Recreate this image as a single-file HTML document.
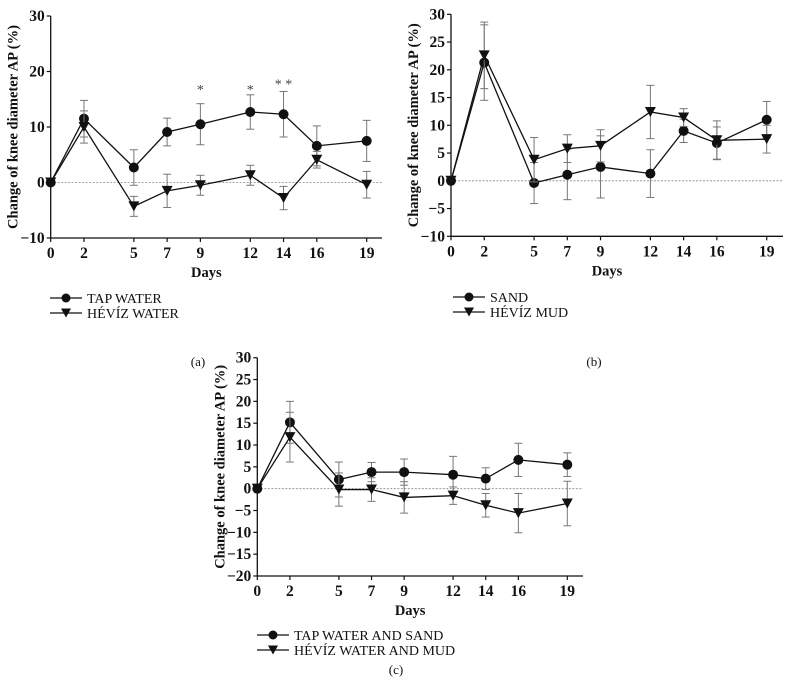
<!DOCTYPE html>
<html><head><meta charset="utf-8"><style>
body{margin:0;background:#fff;width:792px;height:700px;overflow:hidden}
svg{display:block}
text{font-family:"Liberation Serif",serif;fill:#111}
.tick{font-weight:bold;font-size:15.5px}
.title{font-weight:bold;font-size:14.5px}
.leg{font-size:14px}
</style></head><body>
<svg id="c" width="792" height="700" xmlns="http://www.w3.org/2000/svg"></svg>
<script>
const days = [0, 2, 5, 7, 9, 12, 14, 16, 19];
const aTap = [0, 11.5, 2.7, 9.1, 10.5, 12.7, 12.3, 6.6, 7.5];
const aTapErr = [0, 3.3, 3.2, 2.5, 3.7, 3.1, 4.1, 3.6, 3.7];
const aHev = [0, 10, -4.3, -1.5, -0.5, 1.3, -2.8, 4.1, -0.4];
const aHevErr = [0, 2.9, 1.8, 3.0, 1.8, 1.8, 2.1, 1.5, 2.4];
const bSand = [0, 21.3, -0.4, 1.1, 2.5, 1.3, 9.0, 6.8, 11.0];
const bSandErr = [0, 6.8, 3.7, 4.5, 5.6, 4.3, 2.1, 2.9, 3.3];
const bMud = [0, 22.6, 3.8, 5.8, 6.3, 12.4, 11.4, 7.3, 7.5];
const bMudErr = [0, 6.0, 4.0, 2.5, 2.9, 4.8, 1.6, 3.5, 2.5];
const cTap = [0, 15.2, 2.1, 3.8, 3.8, 3.2, 2.3, 6.6, 5.5];
const cTapErr = [0, 4.8, 4.0, 2.2, 3.0, 4.2, 2.5, 3.8, 2.7];
const cHev = [0, 11.8, -0.2, -0.2, -2.0, -1.6, -3.8, -5.6, -3.4];
const cHevErr = [0, 5.7, 3.8, 2.7, 3.6, 2.0, 2.7, 4.5, 5.1];
const aYTicks = [30, 20, 10, 0, -10];
const bYTicks = [30, 25, 20, 15, 10, 5, 0, -5, -10];
const cYTicks = [30, 25, 20, 15, 10, 5, 0, -5, -10, -15, -20];
const aStars = [[9, 17, "*"], [12, 17, "*"], [14, 18, "* *"]];

const svg = document.getElementById('c');
const NS = 'http://www.w3.org/2000/svg';
function el(tag, attrs, parent, txt) {
  const e = document.createElementNS(NS, tag);
  for (const k in attrs) e.setAttribute(k, attrs[k]);
  if (txt !== undefined) e.textContent = txt;
  (parent || svg).appendChild(e);
  return e;
}

function panel(p) {
  const g = el('g', {});
  
  
  const X = d => p.x0 + d * (p.x19 - p.x0) / 19;
  const Y = v => p.yTop + (p.ymax - v) * (p.yBot - p.yTop) / (p.ymax - p.ymin);
  const z = el('line', {x1: p.x0, x2: p.xEnd, y1: Y(0), y2: Y(0), stroke: '#888', 'stroke-width': 0.8, 'stroke-dasharray': '2,1.5'}, g);
  
  
  const ya = el('line', {x1: p.x0, x2: p.x0, y1: p.yTop, y2: p.yBot, stroke: '#111', 'stroke-width': 1.3}, g);
  
  
  const xa = el('line', {x1: p.x0, x2: p.xEnd, y1: p.yBot, y2: p.yBot, stroke: '#111', 'stroke-width': 1.3}, g);
  
  
  p.yTicks.forEach(v => {
    el('line', {x1: p.x0 - 4, x2: p.x0, y1: Y(v), y2: Y(v), stroke: '#111', 'stroke-width': 1.2}, g);
    const t = el('text', {x: p.x0 - 6, y: Y(v) + 5, 'text-anchor': 'end', class: 'tick'}, g, v < 0 ? '\u2212' + (-v) : String(v));
    
    
  });
  days.forEach(d => {
    el('line', {x1: X(d), x2: X(d), y1: p.yBot, y2: p.yBot + 4, stroke: '#111', 'stroke-width': 1.2}, g);
    const t = el('text', {x: X(d), y: p.yBot + 20, 'text-anchor': 'middle', class: 'tick'}, g, String(d));
    
    
  });
  const xt = el('text', {x: (p.x0 + p.xEnd) / 2 - 10, y: p.yBot + 39, 'text-anchor': 'middle', class: 'title'}, g, 'Days');
  
  
  const yt = el('text', {x: 0, y: 0, 'text-anchor': 'middle', class: 'title', transform: `translate(${p.x0 - 33},${(p.yTop + p.yBot) / 2}) rotate(-90)`}, g, 'Change of knee diameter AP (%)');
  
  
  p.series.forEach((s, si) => {
    const sg = el('g', {}, g);
    
    
    s.vals.forEach((v, i) => {
      const e = s.err[i]; if (!e) return;
      const x = X(days[i]);
      el('line', {x1: x, x2: x, y1: Y(v + e), y2: Y(v - e), stroke: '#777', 'stroke-width': 1}, sg);
      el('line', {x1: x - 4, x2: x + 4, y1: Y(v + e), y2: Y(v + e), stroke: '#777', 'stroke-width': 1}, sg);
      el('line', {x1: x - 4, x2: x + 4, y1: Y(v - e), y2: Y(v - e), stroke: '#777', 'stroke-width': 1}, sg);
    });
    const pts = s.vals.map((v, i) => X(days[i]) + ',' + Y(v)).join(' ');
    el('polyline', {points: pts, fill: 'none', stroke: '#111', 'stroke-width': 1.3}, sg);
    s.vals.forEach((v, i) => {
      const x = X(days[i]), y = Y(v);
      let m;
      if (s.marker === 'circle') m = el('circle', {cx: x, cy: y, r: 5, fill: '#111'}, sg);
      else m = el('polygon', {points: `${x - 5.5},${y - 5} ${x + 5.5},${y - 5} ${x},${y + 5}`, fill: '#111'}, sg);
      
      
    });
    const ly = p.legY + si * 15;
    el('line', {x1: p.legX, x2: p.legX + 32, y1: ly, y2: ly, stroke: '#111', 'stroke-width': 1.3}, g);
    const lx = p.legX + 16;
    if (s.marker === 'circle') el('circle', {cx: lx, cy: ly, r: 4.5, fill: '#111'}, g);
    else el('polygon', {points: `${lx - 5},${ly - 4.5} ${lx + 5},${ly - 4.5} ${lx},${ly + 4.5}`, fill: '#111'}, g);
    const lt = el('text', {x: p.legX + 37, y: ly + 5, class: 'leg'}, g, s.label);
    
    
  });
  (p.stars || []).forEach(st => {
    const t = el('text', {x: X(st[0]), y: Y(st[1]) + 6, 'text-anchor': 'middle', style: 'font-size:14px;fill:#444'}, g, st[2]);
    
    
  });
  const cap = el('text', {x: p.capX, y: p.capY, 'text-anchor': 'middle', style: 'font-size:13px'}, g, p.cap);
  
  
}

panel({name: 'panel-a', x0: 50.7, x19: 366.7, xEnd: 382, yTop: 16, yBot: 238, ymax: 30, ymin: -10, yTicks: aYTicks,
  legX: 50, legY: 298, capX: 198, capY: 366, cap: '(a)', stars: aStars,
  series: [{key: 'tap-water-series', label: 'TAP WATER', vals: aTap, err: aTapErr, marker: 'circle'},
           {key: 'heviz-water-series', label: 'HÉVÍZ WATER', vals: aHev, err: aHevErr, marker: 'tri'}]});
panel({name: 'panel-b', x0: 451, x19: 766.7, xEnd: 783, yTop: 14.3, yBot: 236.3, ymax: 30, ymin: -10, yTicks: bYTicks,
  legX: 453, legY: 297, capX: 594, capY: 366, cap: '(b)',
  series: [{key: 'sand-series', label: 'SAND', vals: bSand, err: bSandErr, marker: 'circle'},
           {key: 'heviz-mud-series', label: 'HÉVÍZ MUD', vals: bMud, err: bMudErr, marker: 'tri'}]});
panel({name: 'panel-c', x0: 257.3, x19: 567.3, xEnd: 583, yTop: 357.7, yBot: 576, ymax: 30, ymin: -20, yTicks: cYTicks,
  legX: 257, legY: 635, capX: 396, capY: 674, cap: '(c)',
  series: [{key: 'tap-water-sand-series', label: 'TAP WATER AND SAND', vals: cTap, err: cTapErr, marker: 'circle'},
           {key: 'heviz-water-mud-series', label: 'HÉVÍZ WATER AND MUD', vals: cHev, err: cHevErr, marker: 'tri'}]});
</script>
</body></html>
